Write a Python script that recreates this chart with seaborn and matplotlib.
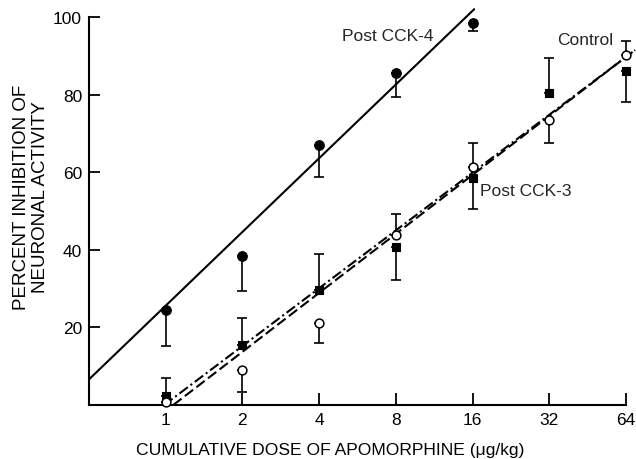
import numpy as np
import pandas as pd
import matplotlib
matplotlib.use("Agg")
import matplotlib.pyplot as plt
import seaborn as sns

# ---------------- data ----------------
doses = [1, 2, 4, 8, 16, 32, 64]
tick_labels = ["1", "2", "4", "8", "16", "32", "64"]

cck4_doses = [1, 2, 4, 8, 16]
cck4_mean = [24.4, 38.4, 67.0, 85.5, 98.4]
cck4_err_lo = [9.1, 9.1, 8.2, 6.2, 1.9]
cck4_err_hi = [0, 0, 0, 0, 0]

control_mean = [0.9, 8.9, 21.1, 43.7, 61.4, 73.5, 90.1]
control_err_lo = [0, 5.6, 5.2, 0, 0, 6.1, 0]
control_err_hi = [0, 0, 0, 5.4, 6.0, 0, 3.8]

cck3_mean = [2.4, 15.5, 29.7, 40.7, 58.4, 80.5, 86.1]
cck3_err_lo = [0, 0, 0, 8.6, 7.9, 0, 7.9]
cck3_err_hi = [4.5, 6.9, 9.1, 0, 0, 8.9, 0]

# fitted lines: percent = slope * log2(dose) + intercept
cck4_fit = [19.0, 25.6]
control_fit = [15.2, -1.5]
cck3_fit = [14.9, 0.3]
fit_end_dose = 69.5

# ---------------- figure ----------------
sns.set_theme(style="ticks")
plt.rcParams["font.family"] = ["Liberation Sans", "DejaVu Sans"]

fig = plt.figure(figsize=(6.36, 4.60), dpi=100)
ax = fig.add_axes([89 / 636, 54 / 460, 537 / 636, 395.8 / 460])

YTOP = 102


def fit_frame(params, x_start, x_end, name):
    m, b = params
    xs = np.array([x_start, x_end], dtype=float)
    ys = m * np.log2(xs) + b
    return pd.DataFrame({"dose": xs, "pct": ys, "series": name})


m4, b4 = cck4_fit
df4 = fit_frame(cck4_fit, 0.5, 2 ** ((YTOP - b4) / m4), "Post CCK-4")
mc, bc = control_fit
dfc = fit_frame(control_fit, 2 ** (-bc / mc), fit_end_dose, "Control")
m3, b3 = cck3_fit
df3 = fit_frame(cck3_fit, 2 ** (-b3 / m3), fit_end_dose, "Post CCK-3")

sns.lineplot(data=df4, x="dose", y="pct", ax=ax, color="black", lw=1.5,
             legend=False, clip_on=False)
sns.lineplot(data=dfc, x="dose", y="pct", ax=ax, color="black", lw=1.5,
             legend=False, clip_on=False)
sns.lineplot(data=df3, x="dose", y="pct", ax=ax, color="black", lw=1.5,
             legend=False, clip_on=False)
lines = ax.get_lines()
lines[1].set_dashes((5, 2))
lines[2].set_dashes((5, 1.6, 1, 1.6))

# error bars (one-sided)
ek = dict(fmt="none", ecolor="black", elinewidth=1.2, capsize=3.3,
          capthick=1.2, zorder=2, clip_on=False)
ax.errorbar(cck4_doses, cck4_mean, yerr=[cck4_err_lo, cck4_err_hi], **ek)
ax.errorbar(doses, control_mean, yerr=[control_err_lo, control_err_hi], **ek)
ax.errorbar(doses, cck3_mean, yerr=[cck3_err_lo, cck3_err_hi], **ek)

# markers
sns.scatterplot(x=cck4_doses, y=cck4_mean, ax=ax, marker="o", s=48,
                color="black", edgecolor="black", linewidth=0.8, zorder=4,
                clip_on=False)
sns.scatterplot(x=doses, y=cck3_mean, ax=ax, marker="s", s=38,
                color="black", edgecolor="black", linewidth=0.8, zorder=4,
                clip_on=False)
sns.scatterplot(x=doses, y=control_mean, ax=ax, marker="o", s=40,
                facecolor="white", edgecolor="black", linewidth=1.1,
                zorder=5, clip_on=False)

# axes
ax.set_xscale("log", base=2)
ax.set_xlim(0.5, 64)
ax.set_ylim(0, YTOP)
ax.set_xticks(doses)
ax.set_xticklabels(tick_labels)
ax.xaxis.set_minor_locator(matplotlib.ticker.NullLocator())
ax.set_yticks([20, 40, 60, 80, 100])
ax.set_yticklabels(["20", "40", "60", "80", "100"])

sns.despine(ax=ax)
ax.spines["left"].set_bounds(0, 100)
for s in ("left", "bottom"):
    ax.spines[s].set_linewidth(1.5)
    ax.spines[s].set_color("black")

ax.tick_params(axis="x", direction="in", length=8.5, width=1.3,
               pad=5, labelsize=12.5, colors="black")
ax.tick_params(axis="y", direction="in", length=8, width=1.3,
               pad=5, labelsize=12.5, colors="black")

ax.set_xlabel("CUMULATIVE DOSE OF APOMORPHINE (\u03bcg/kg)", fontsize=12.6,
              color="black", va="center")
ax.xaxis.set_label_coords((330 - 89) / 537, -(451 - 406) / 395.8)
ax.set_ylabel("PERCENT INHIBITION OF\nNEURONAL ACTIVITY", fontsize=13.5,
              color="black", va="center", ha="center", linespacing=1.12)
ax.yaxis.set_label_coords((31 - 89) / 537, (406 - 197.5) / 395.8)

# series labels
ax.text(7.46, 95.2, "Post CCK-4", ha="center", va="center", fontsize=12.5)
ax.text(34.3, 94.1, "Control", ha="left", va="center", fontsize=12.5)
ax.text(17.1, 55.4, "Post CCK-3", ha="left", va="center", fontsize=12.5)

ax.set_facecolor("white")
fig.patch.set_facecolor("white")
fig.savefig("out.png", dpi=100, facecolor="white")
